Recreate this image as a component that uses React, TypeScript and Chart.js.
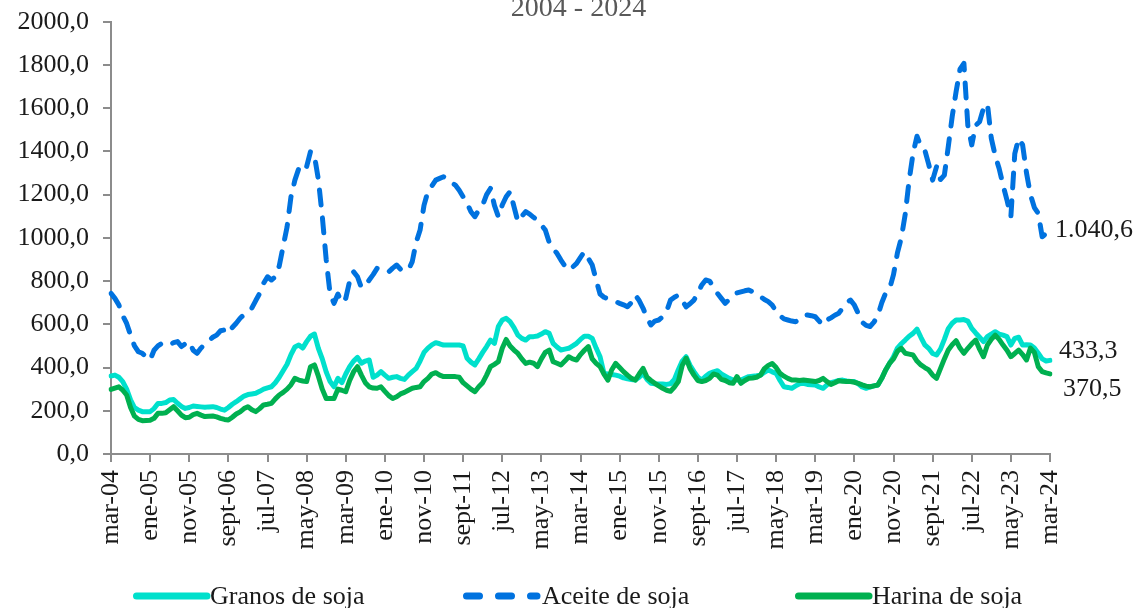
import React, { useEffect, useRef } from 'react';
import { Chart, registerables } from 'chart.js';

Chart.register(...registerables);

// ---- Data -------------------------------------------------------------
const monthNames = ['ene', 'feb', 'mar', 'abr', 'may', 'jun', 'jul', 'ago', 'sept', 'oct', 'nov', 'dic'];
const startYear = 2004;
const startMonth = 2; // mar
const pointCount = 241;
const categories: string[] = Array.from({ length: pointCount }, (_, i) => {
  const m = (startMonth + i) % 12;
  const y = startYear + Math.floor((startMonth + i) / 12);
  return `${monthNames[m]}-${String(y % 100).padStart(2, '0')}`;
});

const subtitle = '2004 - 2024';
const seriesNames = ['Granos de soja', 'Aceite de soja', 'Harina de soja'];
const endLabels = ['433,3', '1.040,6', '370,5'];

const granos = [
  361, 365, 355, 335, 300, 250, 215, 203, 196, 196,
  196, 210, 234, 234, 238, 250, 252, 235, 220, 211,
  215, 222, 220, 218, 216, 218, 219, 215, 208, 203,
  215, 230, 242, 255, 268, 275, 278, 281, 290, 300,
  306, 311, 330, 355, 385, 415, 460, 495, 504, 490,
  520, 545, 555, 489, 440, 380, 335, 311, 350, 330,
  370, 404, 430, 447, 420, 430, 435, 355, 365, 381,
  365, 350, 355, 358, 350, 345, 365, 381, 396, 430,
  470, 490, 505, 515, 510, 504, 504, 504, 504, 504,
  500, 443, 425, 412, 440, 470, 497, 527, 512, 590,
  620, 628, 612, 585, 550, 535, 527, 543, 543, 546,
  555, 566, 558, 512, 495, 481, 485, 489, 500, 512,
  530, 545, 545, 535, 490, 450, 373, 370, 368, 365,
  360, 352, 348, 345, 342, 355, 373, 345, 327, 325,
  324, 324, 322, 325, 345, 390, 430, 450, 410, 381,
  355, 342, 360, 373, 380, 385, 370, 360, 350, 342,
  342, 342, 350, 358, 360, 362, 365, 378, 389, 380,
  373, 340, 311, 308, 304, 315, 325, 327, 322, 320,
  319, 310, 304, 320, 330, 335, 340, 342, 338, 335,
  335, 325, 310, 304, 310, 315, 319, 350, 389, 420,
  450, 490, 510, 527, 545, 558, 578, 540, 505, 489,
  465, 458, 485, 530, 580, 605, 620, 620, 622, 615,
  581, 560, 540, 520, 543, 555, 566, 555, 550, 543,
  504, 535, 540, 504, 505, 504, 490, 466, 440, 430,
  433.3,
];

const aceite = [
  743, 720, 690, 640, 604, 550, 500, 473, 466, 450,
  435, 480, 500, 512, 505, 505, 515, 520, 497, 510,
  520, 480, 466, 490, 510, 525, 540, 550, 570, 574,
  558, 585, 605, 628, 645, 660, 675, 710, 743, 790,
  820, 805, 820, 870, 960, 1050, 1190, 1267, 1321, 1306,
  1329, 1400, 1380, 1270, 1100, 900, 740, 697, 740, 700,
  720, 800, 843, 820, 770, 780, 805, 830, 859, 855,
  845, 843, 860, 874, 855, 851, 851, 890, 980, 1036,
  1150, 1215, 1240, 1267, 1275, 1283, 1270, 1255, 1244, 1220,
  1190, 1160, 1121, 1098, 1129, 1152, 1200, 1229, 1150, 1098,
  1152, 1190, 1214, 1144, 1075, 1100, 1121, 1110, 1095, 1082,
  1060, 1036, 980, 950, 928, 897, 870, 851, 865, 882,
  910, 936, 905, 874, 805, 740, 725, 718, 712, 705,
  697, 690, 681, 700, 735, 710, 674, 630, 597, 615,
  620, 635, 660, 712, 725, 735, 710, 681, 695, 712,
  745, 782, 805, 800, 770, 743, 720, 697, 715, 735,
  745, 750, 755, 759, 750, 738, 728, 715, 705, 689,
  660, 640, 625, 620, 615, 612, 625, 640, 643, 640,
  635, 615, 597, 620, 630, 642, 651, 675, 700, 712,
  689, 650, 610, 595, 590, 610, 640, 700, 745, 765,
  830, 930, 1000, 1110, 1267, 1391, 1470, 1425, 1406, 1340,
  1267, 1329, 1270, 1290, 1422, 1561, 1676, 1780, 1807, 1520,
  1430, 1520, 1537, 1600, 1620, 1460, 1380, 1321, 1244, 1175,
  1098, 1390, 1460, 1430, 1300, 1200, 1140, 1113, 1005, 1020,
  1040.6,
];

const harina = [
  299, 305, 311, 295, 273, 215, 175, 160, 154, 155,
  156, 165, 188, 188, 191, 205, 219, 200, 180, 168,
  170, 182, 188, 180, 173, 175, 176, 172, 165, 160,
  157, 170, 185, 195, 210, 219, 205, 196, 210, 227,
  230, 234, 255, 273, 285, 300, 320, 350, 342, 338,
  335, 404, 412, 360, 300, 257, 257, 257, 300, 295,
  288, 340, 380, 404, 365, 330, 311, 305, 304, 311,
  290, 270, 257, 265, 278, 285, 295, 304, 308, 311,
  335, 350, 370, 376, 365, 358, 358, 358, 358, 355,
  330, 315, 300, 288, 311, 330, 365, 404, 415, 427,
  489, 530, 500, 481, 465, 440, 419, 425, 420, 404,
  440, 470, 481, 427, 420, 412, 430, 450, 440, 435,
  460, 480, 497, 440, 419, 404, 370, 342, 390, 419,
  400, 381, 365, 350, 342, 370, 396, 355, 340, 327,
  315, 304, 295, 290, 310, 335, 410, 443, 395, 365,
  340, 335, 340, 350, 370, 365, 345, 340, 330, 327,
  358, 327, 340, 350, 352, 355, 365, 395, 410, 419,
  400, 373, 360, 350, 342, 342, 340, 342, 340, 338,
  335, 340, 350, 335, 322, 330, 339, 336, 335, 335,
  332, 327, 320, 314, 311, 315, 319, 350, 389, 420,
  440, 475, 489, 466, 462, 458, 430, 412, 400, 389,
  365, 350, 395, 440, 481, 505, 524, 490, 466, 489,
  510, 527, 485, 450, 504, 530, 550, 530, 504, 480,
  450, 465, 481, 460, 435, 490, 470, 404, 381, 375,
  370.5,
];

const yMin = 0;
const yMax = 2000;
const yStep = 200;
const labelEvery = 10;

// ---- Styles -------------------------------------------------------------
const W = 1137;
const H = 608;
const FONT = '"Liberation Serif", "Times New Roman", serif';
const COLORS = ['#00E0CC', '#0072DF', '#00B050'];
const AXIS = '#8C8C8C';
const TEXT = '#1a1a1a';
const DASH = [15, 13];
const endOffsets = [
  { dx: 9, dy: -9 },
  { dx: 5, dy: 1 },
  { dx: 13, dy: 15 },
];
const legendItems = [
  { x: 133, textX: 210 },
  { x: 463, textX: 542 },
  { x: 795, textX: 872 },
];

const overlayPlugin = {
  id: 'overlay',
  afterDraw(chart: any) {
    const ctx: CanvasRenderingContext2D = chart.ctx;
    const ca = chart.chartArea;
    ctx.save();
    // subtitle (partially cut off at the top like the reference)
    ctx.font = `28px ${FONT}`;
    ctx.fillStyle = '#595959';
    ctx.textAlign = 'center';
    ctx.textBaseline = 'alphabetic';
    ctx.fillText(subtitle, (ca.left + ca.right) / 2 - 2, 16);

    // end value labels
    ctx.font = `26px ${FONT}`;
    ctx.fillStyle = TEXT;
    ctx.textAlign = 'left';
    ctx.textBaseline = 'middle';
    chart.data.datasets.forEach((_: any, di: number) => {
      const meta = chart.getDatasetMeta(di);
      const last = meta.data[meta.data.length - 1];
      if (!last) return;
      ctx.fillText(endLabels[di], last.x + endOffsets[di].dx, last.y + endOffsets[di].dy);
    });

    // legend
    const ly = 596;
    legendItems.forEach((it, i) => {
      ctx.beginPath();
      ctx.strokeStyle = COLORS[i];
      ctx.lineWidth = 7;
      ctx.lineCap = 'round';
      ctx.setLineDash(i === 1 ? [13, 19] : []);
      ctx.moveTo(it.x + 3.5, ly);
      ctx.lineTo(it.x + 74, ly);
      ctx.stroke();
      ctx.setLineDash([]);
      ctx.font = `26px ${FONT}`;
      ctx.fillStyle = TEXT;
      ctx.textAlign = 'left';
      ctx.textBaseline = 'alphabetic';
      ctx.fillText(seriesNames[i], it.textX, 604);
    });
    ctx.restore();
  },
};

export default function App() {
  const ref = useRef<HTMLCanvasElement>(null);

  useEffect(() => {
    if (!ref.current) return;
    const mk = (data: number[], i: number, order: number, dash?: number[]) => ({
      label: seriesNames[i],
      data,
      borderColor: COLORS[i],
      backgroundColor: COLORS[i],
      borderWidth: 5,
      borderDash: dash || [],
      borderCapStyle: 'round',
      borderJoinStyle: 'round',
      pointRadius: 0,
      pointHoverRadius: 0,
      tension: 0,
      fill: false,
      order,
    });
    const chart = new Chart(ref.current, {
      type: 'line',
      data: {
        labels: categories,
        datasets: [mk(granos, 0, 3), mk(aceite, 1, 2, DASH), mk(harina, 2, 1)] as any,
      },
      options: {
        responsive: false,
        animation: false,
        devicePixelRatio: 1,
        layout: { padding: { top: 21.7, right: 87, bottom: 0, left: 0 } },
        plugins: {
          legend: { display: false },
          title: { display: false },
          tooltip: { enabled: false },
        },
        scales: {
          x: {
            type: 'category',
            offset: false,
            ticks: {
              autoSkip: false,
              maxRotation: 90,
              minRotation: 90,
              padding: 8,
              color: TEXT,
              font: { family: FONT, size: 26 },
              callback: (_v: any, i: number) => (i % labelEvery === 0 ? categories[i] : ''),
            },
            grid: {
              drawOnChartArea: false,
              drawTicks: true,
              tickLength: 8,
              lineWidth: 2,
              color: (c: any) => (c.index % labelEvery === 0 ? AXIS : 'rgba(0,0,0,0)'),
            },
            border: { color: AXIS, width: 2 },
            afterFit: (s: any) => {
              s.height = 154;
              s.paddingLeft = 0;
              s.paddingRight = 0;
            },
          },
          y: {
            min: yMin,
            max: yMax,
            ticks: {
              stepSize: yStep,
              padding: 14,
              color: TEXT,
              font: { family: FONT, size: 26 },
              callback: (v: any) => Number(v).toFixed(1).replace('.', ','),
            },
            grid: {
              drawOnChartArea: false,
              drawTicks: true,
              tickLength: 8,
              lineWidth: 2,
              color: AXIS,
            },
            border: { color: AXIS, width: 2 },
            afterFit: (s: any) => {
              s.width = 111;
              s.paddingTop = 0;
              s.paddingBottom = 0;
            },
          },
        },
      } as any,
      plugins: [overlayPlugin],
    });
    return () => chart.destroy();
  }, []);

  return (
    <div style={{ position: 'absolute', left: 0, top: 0, width: W, height: H, overflow: 'hidden' }}>
      <canvas ref={ref} width={W} height={H} style={{ display: 'block' }} />
    </div>
  );
}
